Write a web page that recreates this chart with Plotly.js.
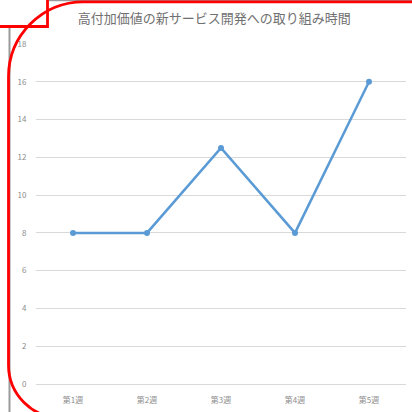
<!DOCTYPE html>
<html><head><meta charset="utf-8">
<script src="https://cdn.plot.ly/plotly-3.0.1.min.js"></script>
<style>html,body{margin:0;padding:0;background:#fff;}#c{width:412px;height:412px;}</style>
</head><body><div id="c"></div>
<script>
const titleText = '高付加価値の新サービス開発への取り組み時間';
const categories = ['第1週','第2週','第3週','第4週','第5週'];
const hours = [8, 8, 12.5, 8, 16];
const yTicks = [0,2,4,6,8,10,12,14,16,18];

// plot area in pixels
const L = 36, R = 406, T = 44, B = 384;
const px = x => (x - L) / (R - L);
const py = y => (B - y) / (B - T);
const P = (x,y)=>px(x).toFixed(4)+','+py(y).toFixed(4);

function frame(x0,y0,x1,y1,rTL,rBL){
  const k = 0.448;
  return 'M'+P(x0+rTL,y0)+' L'+P(x1,y0)+' L'+P(x1,y1)+
    ' L'+P(x0+rBL,y1)+' C'+P(x0+rBL*k,y1)+' '+P(x0,y1-rBL*k)+' '+P(x0,y1-rBL)+
    ' L'+P(x0,y0+rTL)+' C'+P(x0,y0+rTL*k)+' '+P(x0+rTL*k,y0)+' '+P(x0+rTL,y0)+' Z';
}

const trace = {
  x: categories, y: hours, type: 'scatter', mode: 'lines+markers',
  line: {color: '#5B9BD5', width: 2.5},
  marker: {color: '#5B9BD5', size: 6},
  hoverinfo: 'skip'
};

const layout = {
  width: 412, height: 412,
  margin: {l: L, r: 412 - R, t: T, b: 412 - B, pad: 0},
  paper_bgcolor: '#ffffff', plot_bgcolor: '#ffffff',
  font: {family: '"Noto Sans CJK JP", "Noto Sans", sans-serif', color: '#8c8c8c', size: 8},
  title: {text: titleText, font: {size: 13, color: '#707070', family: '"Noto Sans CJK JP", sans-serif'},
          x: 0.52, xanchor: 'center', y: 1 - 18/412, yanchor: 'middle'},
  showlegend: false,
  xaxis: {type: 'category', range: [-0.5, 4.5], showgrid: false, zeroline: false,
          showline: false, ticks: 'outside', ticklen: 8, tickcolor: 'rgba(0,0,0,0)',
          tickfont: {size: 8, color: '#8c8c8c'}, fixedrange: true},
  yaxis: {range: [0, 18], tickvals: yTicks, showgrid: true, gridcolor: '#d9d9d9', gridwidth: 1,
          zeroline: true, zerolinecolor: '#d9d9d9', zerolinewidth: 1, showline: false,
          ticks: 'outside', ticklen: 7, tickcolor: 'rgba(0,0,0,0)',
          tickfont: {size: 8, color: '#8c8c8c'}, fixedrange: true},
  shapes: [
    {type: 'line', xref: 'paper', yref: 'paper', x0: px(9.5), x1: px(9.5), y0: py(27), y1: py(414),
     line: {color: '#9a9a9a', width: 2}},
    {type: 'line', xref: 'paper', yref: 'paper', x0: px(48), x1: px(414), y0: py(0.5), y1: py(0.5),
     line: {color: '#9a9a9a', width: 1.5}},
    {type: 'path', xref: 'paper', yref: 'paper', path: frame(8.5, 1.8, 440, 418, 75, 53),
     line: {color: '#ff0000', width: 2.8}},
    {type: 'path', xref: 'paper', yref: 'paper',
     path: 'M'+P(-3,26.5)+' L'+P(47.5,26.5)+' L'+P(47.5,-3),
     line: {color: '#ff0000', width: 2.8}}
  ]
};

Plotly.newPlot('c', [trace], layout, {displayModeBar: false, staticPlot: true});
</script>
</body></html>
